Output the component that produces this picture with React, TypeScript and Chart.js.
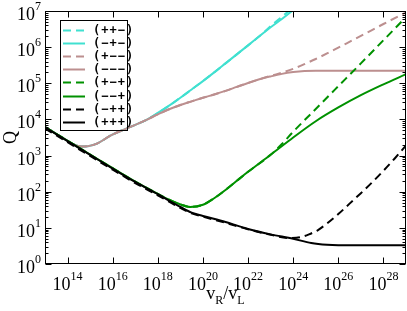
import { useEffect, useRef } from 'react';
import { Chart, registerables } from 'chart.js';

Chart.register(...registerables);

// ---------- data (x = v_R/v_L, Q) ----------
const xBlackSolid = [1e13, 1e14, 1e15, 1e16, 1e17, 1e18, 1e19, 3.16e19, 1e20, 1e21, 1e22, 1e23, 1e24, 6.3e24, 3.16e25, 1e26, 1e27, 1e29];
const qBlackSolid = [6030, 2510, 1050, 437, 186, 85.1, 38.0, 26.3, 21.4, 14.5, 9.33, 6.61, 5.01, 3.8, 3.39, 3.31, 3.31, 3.31];

const xBlackDashed = [1e13, 1e14, 1e15, 1e16, 1e17, 1e18, 1e19, 3.16e19, 1e20, 1e21, 1e22, 1e23, 6.3e23, 2.0e24, 5.0e24, 1.26e25, 3.16e25, 1e26, 3.16e26, 1e27, 3.16e27, 1e28, 3.16e28, 1e29];
const qBlackDashed = [5620, 2340, 977, 407, 174, 79.4, 35.5, 25.1, 20.4, 13.8, 9.12, 6.46, 5.25, 5.5, 6.61, 8.71, 13.2, 24.0, 46.8, 91.2, 182, 380, 832, 1900];

const xGreenSolid = [1e13, 1e14, 1e15, 1e16, 1e17, 1e18, 3.16e18, 1e19, 2.8e19, 1e20, 3.16e20, 1e21, 3.16e21, 1e22, 1e23, 1e24, 1e25, 1e26, 1e27, 1e28, 1e29];
const qGreenSolid = [6170, 2570, 1070, 447, 191, 87.1, 60.3, 44.7, 38.0, 43.7, 66.1, 112, 200, 355, 1050, 3160, 8910, 21400, 46800, 93300, 178000];

const xGreenDashed = [1e13, 1e14, 1e15, 1e16, 1e17, 1e18, 3.16e18, 1e19, 2.8e19, 1e20, 3.16e20, 1e21, 3.16e21, 1e22, 1e23, 3.16e23, 1e24, 1e25, 1e26, 1e27, 1e28, 1e29];
const qGreenDashed = [6170, 2570, 1070, 447, 191, 87.1, 60.3, 44.7, 38.0, 43.7, 66.1, 112, 200, 355, 1050, 2090, 4570, 19500, 83200, 355000, 1550000, 6760000];

const xBrownSolid = [1e13, 3.16e13, 1e14, 2.0e14, 4.0e14, 7.9e14, 2.0e15, 7.9e15, 3.16e16, 1e17, 3.16e17, 1e18, 3.16e18, 1e19, 3.16e19, 1e20, 3.16e20, 1e21, 3.16e21, 1e22, 3.16e22, 1e23, 3.16e23, 1e24, 3.16e24, 1e25, 1e26, 1e29];
const qBrownSolid = [6170, 3980, 2570, 2000, 1780, 1820, 2140, 3550, 5250, 7080, 9770, 13800, 19100, 25100, 31600, 39800, 49000, 61700, 79400, 102000, 129000, 155000, 182000, 204000, 219000, 224000, 224000, 224000];

const xBrownDashed = [1e13, 3.16e13, 1e14, 2.0e14, 4.0e14, 7.9e14, 2.0e15, 7.9e15, 3.16e16, 1e17, 3.16e17, 1e18, 3.16e18, 1e19, 3.16e19, 1e20, 3.16e20, 1e21, 3.16e21, 1e22, 3.16e22, 1e23, 3.16e23, 1e24, 3.16e24, 1e25, 3.16e25, 1e26, 1e27, 1e28, 1e29];
const qBrownDashed = [6170, 3980, 2570, 2000, 1780, 1820, 2140, 3550, 5250, 7080, 9770, 13800, 19100, 25100, 31600, 39800, 49000, 61700, 79400, 102000, 129000, 160000, 196000, 251000, 340000, 470000, 668000, 970000, 2040000, 4370000, 9120000];

const xCyanSolid = [1e13, 3.16e13, 1e14, 2.0e14, 4.0e14, 7.9e14, 2.0e15, 7.9e15, 3.16e16, 1e17, 3.16e17, 1e18, 3.16e18, 1e19, 3.16e19, 1e20, 3.16e20, 1e21, 3.16e21, 1e22, 3.16e22, 1e23, 3.16e23, 1e24, 2.0e24];
const qCyanSolid = [6170, 3980, 2570, 2000, 1780, 1820, 2140, 3550, 5250, 7080, 9770, 15100, 24000, 39800, 67600, 115000, 200000, 355000, 631000, 1120000, 2000000, 3550000, 6030000, 10500000, 14100000];

const xCyanDashed = [1e13, 3.16e13, 1e14, 2.0e14, 4.0e14, 7.9e14, 2.0e15, 7.9e15, 3.16e16, 1e17, 3.16e17, 1e18, 3.16e18, 1e19, 3.16e19, 1e20, 3.16e20, 1e21, 3.16e21, 1e22, 3.16e22, 1e23, 3.16e23, 1e24];
const qCyanDashed = [6170, 3980, 2570, 2000, 1780, 1820, 2140, 3550, 5250, 7080, 9770, 15100, 24000, 39800, 67600, 115000, 200000, 355000, 631000, 1120000, 2000000, 3800000, 6920000, 12600000];

const seriesLabels = ['(++\u2212)', '(\u2212+\u2212)', '(+\u2212\u2212)', '(\u2212\u2212\u2212)', '(+\u2212+)', '(\u2212\u2212+)', '(\u2212++)', '(+++)'];

const xTickValues = [1e14, 1e16, 1e18, 1e20, 1e22, 1e24, 1e26, 1e28];
const yTickValues = [1, 10, 100, 1e3, 1e4, 1e5, 1e6, 1e7];

const X_MIN = 1e13;
const X_MAX = 1e29;
const Y_MIN = 1;
const Y_MAX = 1e7;

// ---------- styles ----------
const CYAN = '#40E0D0';
const BROWN = '#BC8F8F';
const GREEN = 'rgb(0,145,0)';
const BLACK = '#000000';
const DASH = [8, 5];
const SERIF = "'Liberation Serif', 'Times New Roman', serif";
const BASE_SIZE = 18;
const EXP_SIZE = 12;
const LEGEND_FONT = "bold 12px 'DejaVu Sans Mono', 'Liberation Mono', monospace";

function pts(xs: number[], qs: number[]) {
  return xs.map((x, i) => ({ x, y: qs[i] }));
}

function drawPow(ctx: CanvasRenderingContext2D, exp: string, left: number, baseY: number) {
  ctx.font = `${BASE_SIZE}px ${SERIF}`;
  const wb = ctx.measureText('10').width;
  ctx.fillText('10', left, baseY);
  ctx.font = `${EXP_SIZE}px ${SERIF}`;
  ctx.fillText(exp, left + wb, baseY - 10);
}

function powWidth(ctx: CanvasRenderingContext2D, exp: string) {
  ctx.font = `${BASE_SIZE}px ${SERIF}`;
  const wb = ctx.measureText('10').width;
  ctx.font = `${EXP_SIZE}px ${SERIF}`;
  const we = ctx.measureText(exp).width;
  return wb + we;
}

const framePlugin = {
  id: 'gracelikeFrame',
  afterDatasetsDraw(chart: any) {
    const { ctx, chartArea: a } = chart;
    const sx = chart.scales.x;
    const sy = chart.scales.y;
    const L = Math.round(a.left) + 0.5;
    const R = Math.round(a.right) - 0.5;
    const T = Math.round(a.top) + 0.5;
    const B = Math.round(a.bottom) - 0.5;
    ctx.save();
    ctx.setLineDash([]);
    ctx.strokeStyle = '#000';
    ctx.lineWidth = 1;
    ctx.strokeRect(L, T, R - L, B - T);

    ctx.beginPath();
    for (const v of xTickValues) {
      const px = Math.round(sx.getPixelForValue(v)) + 0.5;
      ctx.moveTo(px, B); ctx.lineTo(px, B - 6);
      ctx.moveTo(px, T); ctx.lineTo(px, T + 6);
    }
    for (const v of yTickValues) {
      const py = Math.round(sy.getPixelForValue(v)) + 0.5;
      ctx.moveTo(L, py); ctx.lineTo(L + 6, py);
      ctx.moveTo(R, py); ctx.lineTo(R - 6, py);
      if (v < Y_MAX) {
        for (let m = 2; m <= 9; m++) {
          const pm = Math.round(sy.getPixelForValue(v * m)) + 0.5;
          ctx.moveTo(L, pm); ctx.lineTo(L + 3, pm);
          ctx.moveTo(R, pm); ctx.lineTo(R - 3, pm);
        }
      }
    }
    ctx.stroke();

    ctx.fillStyle = '#000';
    ctx.textBaseline = 'alphabetic';
    ctx.textAlign = 'left';
    for (const v of xTickValues) {
      const exp = String(Math.round(Math.log10(v)));
      const px = sx.getPixelForValue(v);
      const w = powWidth(ctx, exp);
      drawPow(ctx, exp, px - w / 2, 290);
    }
    for (const v of yTickValues) {
      const exp = String(Math.round(Math.log10(v)));
      const py = sy.getPixelForValue(v);
      const w = powWidth(ctx, exp);
      drawPow(ctx, exp, 41 - w, py + 9);
    }

    const parts: [string, number, number][] = [
      ['v', BASE_SIZE, 0], ['R', EXP_SIZE, 5], ['/', BASE_SIZE, 0], ['v', BASE_SIZE, 0], ['L', EXP_SIZE, 5],
    ];
    let tw = 0;
    for (const [t, s] of parts) { ctx.font = `${s}px ${SERIF}`; tw += ctx.measureText(t).width; }
    let cx = (a.left + a.right) / 2 - tw / 2;
    for (const [t, s, dy] of parts) {
      ctx.font = `${s}px ${SERIF}`;
      ctx.fillText(t, cx, 299 + dy);
      cx += ctx.measureText(t).width;
    }

    ctx.save();
    ctx.translate(16, (a.top + a.bottom) / 2);
    ctx.rotate(-Math.PI / 2);
    ctx.textAlign = 'center';
    ctx.font = `${BASE_SIZE}px ${SERIF}`;
    ctx.fillText('Q', 0, 0);
    ctx.restore();

    // legend
    ctx.strokeStyle = '#000';
    ctx.lineWidth = 1;
    ctx.strokeRect(60.5, 20.5, 67, 110);
    const dss = chart.data.datasets;
    dss.forEach((ds: any, i: number) => {
      const y = Math.round(30 + i * 13.1) + 0.5;
      ctx.strokeStyle = ds.borderColor;
      ctx.lineWidth = 2;
      ctx.setLineDash(ds.borderDash || []);
      ctx.beginPath();
      ctx.moveTo(63, y); ctx.lineTo(85, y);
      ctx.stroke();
      ctx.setLineDash([]);
      ctx.fillStyle = '#000';
      ctx.font = LEGEND_FONT;
      (ctx as any).letterSpacing = '1px';
      ctx.textBaseline = 'middle';
      ctx.textAlign = 'left';
      ctx.fillText(ds.label, 93, y + 0.5);
      (ctx as any).letterSpacing = '0px';
    });
    ctx.restore();
  },
};

export default function App() {
  const ref = useRef<HTMLCanvasElement | null>(null);
  useEffect(() => {
    if (!ref.current) return;
    const defs = [
      { label: seriesLabels[0], xs: xCyanDashed, qs: qCyanDashed, color: CYAN, dash: DASH },
      { label: seriesLabels[1], xs: xCyanSolid, qs: qCyanSolid, color: CYAN, dash: [] },
      { label: seriesLabels[2], xs: xBrownDashed, qs: qBrownDashed, color: BROWN, dash: DASH },
      { label: seriesLabels[3], xs: xBrownSolid, qs: qBrownSolid, color: BROWN, dash: [] },
      { label: seriesLabels[4], xs: xGreenDashed, qs: qGreenDashed, color: GREEN, dash: DASH },
      { label: seriesLabels[5], xs: xGreenSolid, qs: qGreenSolid, color: GREEN, dash: [] },
      { label: seriesLabels[6], xs: xBlackDashed, qs: qBlackDashed, color: BLACK, dash: DASH },
      { label: seriesLabels[7], xs: xBlackSolid, qs: qBlackSolid, color: BLACK, dash: [] },
    ];
    const datasets = defs.map((d, i) => ({
      label: d.label,
      data: pts(d.xs, d.qs),
      borderColor: d.color,
      backgroundColor: d.color,
      borderDash: d.dash,
      borderWidth: 2,
      pointRadius: 0,
      fill: false,
      cubicInterpolationMode: 'monotone' as const,
      clip: 0,
      order: defs.length - 1 - i,
    }));
    const chart = new Chart(ref.current, {
      type: 'line',
      data: { datasets },
      options: {
        animation: false,
        responsive: false,
        devicePixelRatio: 1,
        events: [],
        layout: { padding: { left: 45, top: 11, right: 1, bottom: 47 } },
        plugins: { legend: { display: false }, tooltip: { enabled: false } },
        scales: {
          x: { type: 'logarithmic', min: X_MIN, max: X_MAX, display: false },
          y: { type: 'logarithmic', min: Y_MIN, max: Y_MAX, display: false },
        },
      },
      plugins: [framePlugin],
    } as any);
    return () => chart.destroy();
  }, []);
  return (
    <div style={{ position: 'fixed', left: 0, top: 0, width: 407, height: 311, background: '#fff' }}>
      <canvas ref={ref} width={407} height={311} style={{ display: 'block', width: 407, height: 311 }} />
    </div>
  );
}
